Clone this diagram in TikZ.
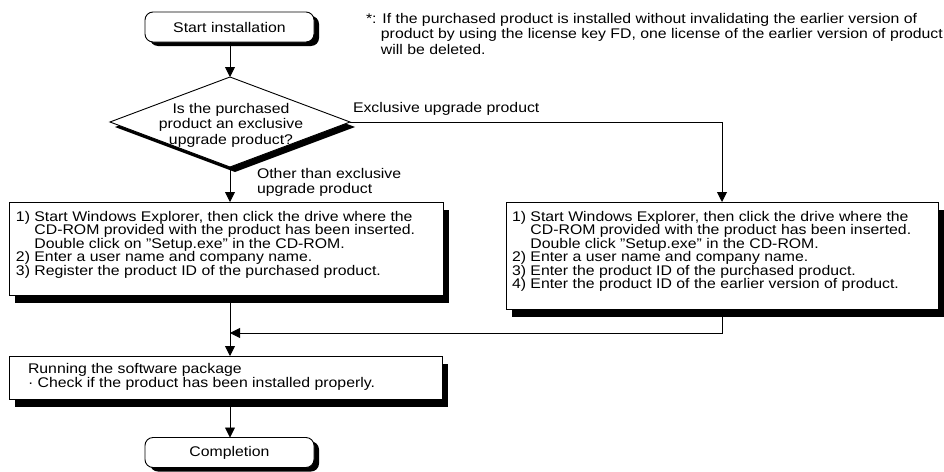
\documentclass[tikz,border=0pt]{standalone}
\usepackage{fontspec}
\setmainfont{Liberation Sans}[FakeStretch=1.13]
\usetikzlibrary{shapes.geometric,shadows,arrows.meta}
\begin{document}
\begin{tikzpicture}[x=1pt,y=-1pt,line width=0.9pt,
  font=\fontsize{14}{13.5}\selectfont,
  >={Triangle[length=10pt,width=10pt]},
  every node/.style={outer sep=0pt},
  termbox/.style={draw,fill=white,rounded corners=8pt,minimum width=169pt,minimum height=30pt,inner sep=0pt,
    drop shadow={shadow xshift=5pt,shadow yshift=-4pt,opacity=1,fill=black}},
  procbox/.style={draw,fill=white,inner sep=0pt,
    drop shadow={shadow xshift=6pt,shadow yshift=-8pt,opacity=1,fill=black}},
  decbox/.style={diamond,draw,fill=white,minimum width=240pt,minimum height=90pt,inner sep=0pt,
    drop shadow={shadow xshift=5pt,shadow yshift=-5pt,opacity=1,fill=black}},
  boxtext/.style={anchor=north west,align=left,inner sep=0pt},
  lbl/.style={inner sep=0pt,align=left}]
\useasboundingbox (0,0) rectangle (944,471);

% nodes
\node[termbox] (start) at (229.5,27) {Start installation};
\node[decbox] (q) at (230,122) {};
\node[lbl,align=center,font=\fontsize{14}{15.5}\selectfont] (qt) at (231,125) {Is the purchased\\product an exclusive\\upgrade product?};

\node[procbox,minimum width=434pt,minimum height=93pt] (lbox) at (226,248.5) {};
\node[boxtext] (lboxt) at ([shift={(7,9)}]lbox.north west) {1) Start Windows Explorer, then click the drive where the\\
\phantom{1)}\ CD-ROM provided with the product has been inserted.\\
\phantom{1)}\ Double click on "Setup.exe" in the CD-ROM.\\
2) Enter a user name and company name.\\
3) Register the product ID of the purchased product.};

\node[procbox,minimum width=432pt,minimum height=107pt] (rbox) at (722,255.5) {};
\node[boxtext] (rboxt) at ([shift={(6,9)}]rbox.north west) {1) Start Windows Explorer, then click the drive where the\\
\phantom{1)}\ CD-ROM provided with the product has been inserted.\\
\phantom{1)}\ Double click "Setup.exe" in the CD-ROM.\\
2) Enter a user name and company name.\\
3) Enter the product ID of the purchased product.\\
4) Enter the product ID of the earlier version of product.};

\node[procbox,minimum width=433pt,minimum height=43pt] (run) at (225.5,377.5) {};
\node[boxtext] (runt) at ([shift={(19,7.5)}]run.north west) {Running the software package\\
· Check if the product has been installed properly.};

\node[termbox] (end) at (229.5,452.5) {Completion};

% labels
\node[lbl,anchor=west] (lexcl) at (353,108.5) {Exclusive upgrade product};
\node[lbl,anchor=north west,font=\fontsize{14}{15}\selectfont] (lother) at (257,168.5) {Other than exclusive\\upgrade product};
\node[lbl,anchor=north west,font=\fontsize{14}{15.5}\selectfont] (note) at (366,13) {*: If the purchased product is installed without invalidating the earlier version of\\
\phantom{*:}\ product by using the license key FD, one license of the earlier version of product\\
\phantom{*:}\ will be deleted.};

% connectors
\coordinate (j) at (230,333);
\draw[->] (start.south -| q.north) -- (q.north);
\draw[->] (q.east) -| (rbox.north);
\draw[->] (q.south) -- (q.south |- lbox.north);
\draw[->] (rbox.south) |- (j);
\draw[->] (lbox.south -| j) -- (run.north -| j);
\draw[->] (run.south -| j) -- (end.north -| j);
\end{tikzpicture}
\end{document}
